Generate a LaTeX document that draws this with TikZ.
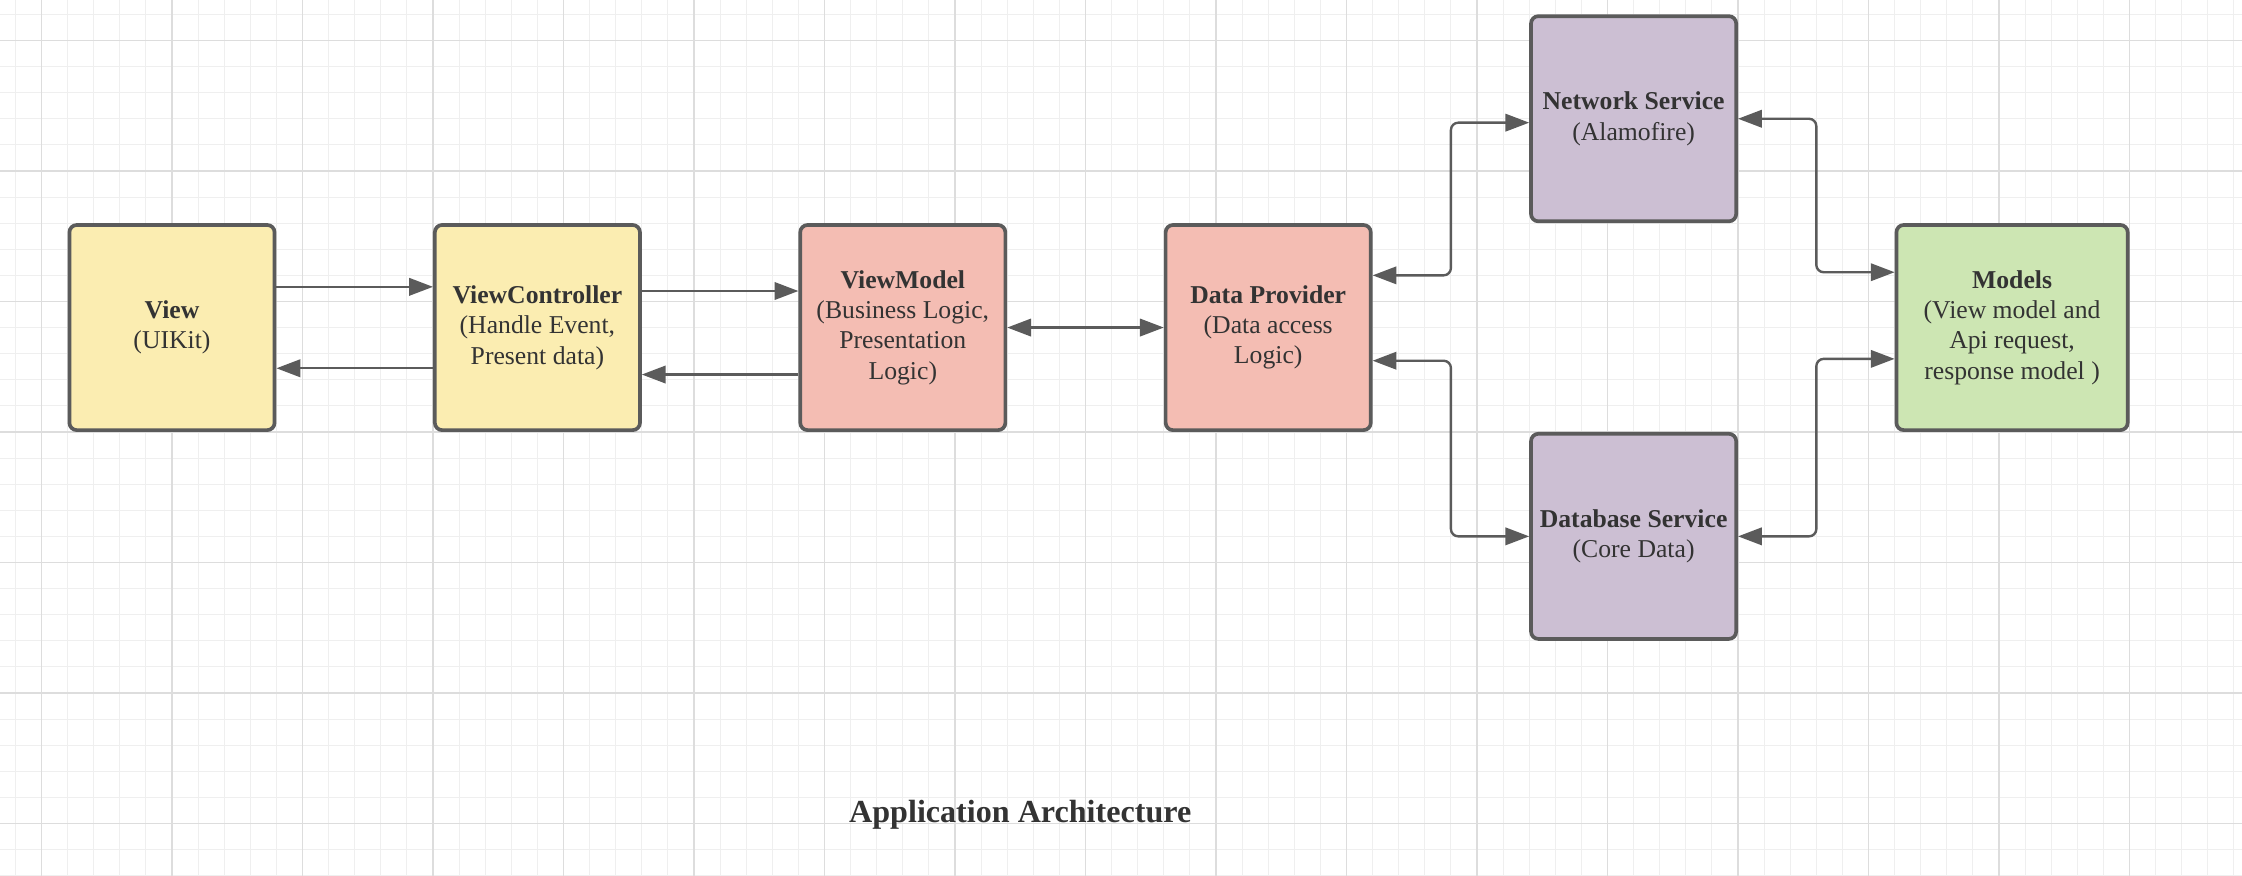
\documentclass[tikz,border=0pt]{standalone}
\usepackage{fontspec}
\setmainfont{Liberation Serif}
\usetikzlibrary{arrows.meta}
\definecolor{gridminor}{HTML}{EFEFEF}
\definecolor{gridmajor}{HTML}{DDDDDD}
\definecolor{boxline}{HTML}{5B5B5B}
\definecolor{txt}{HTML}{333333}
\definecolor{uiyellow}{HTML}{FBEDB1}
\definecolor{logicpink}{HTML}{F4BDB3}
\definecolor{servicepurple}{HTML}{CCBFD3}
\definecolor{modelgreen}{HTML}{CDE6B3}

\begin{document}
\begin{tikzpicture}[x=0.5cm, y=0.5cm, font=\fontsize{14}{16.5}\selectfont, every node/.style={align=center, text=txt}]
\tikzset{
  block/.style={draw=boxline, line width=2pt, rounded corners=4pt, minimum width=3.93cm, minimum height=3.93cm, inner sep=2pt},
  link/.style={draw=boxline, line width=1.3pt, rounded corners=4pt, >={Triangle[length=13pt,width=9.5pt]}}
}
\useasboundingbox (-1.59,-32.01) rectangle (84.31,1.55);
\draw[gridminor, line width=0.55pt, step=1] (-1.59,-32.01) grid (84.31,1.55);
\draw[gridmajor, line width=0.8pt, step=5] (-1.59,-32.01) grid (84.31,1.55);

\node[block, fill=uiyellow] (view) at (5,-11) {\textbf{View}\\(UIKit)};
\node[block, fill=uiyellow] (vc) at (19,-11) {\textbf{ViewController}\\(Handle Event,\\Present data)};
\node[block, fill=logicpink] (vm) at (33,-11) {\textbf{ViewModel}\\(Business Logic,\\Presentation\\Logic)};
\node[block, fill=logicpink] (provider) at (47,-11) {\textbf{Data Provider}\\(Data access\\Logic)};
\node[block, fill=servicepurple] (network) at (61,-3) {\textbf{Network Service}\\(Alamofire)};
\node[block, fill=servicepurple] (database) at (61,-19) {\textbf{Database Service}\\(Core Data)};
\node[block, fill=modelgreen, minimum width=4.43cm] (models) at (75.5,-11) {\textbf{Models}\\(View model and\\Api request,\\response model )};
\node[font=\bfseries\fontsize{17.5}{20}\selectfont] (title) at (37.5,-29.65) {Application Architecture};

\draw[link, ->] ([yshift=0.78cm]view.east) -- ([yshift=0.78cm]vc.west);
\draw[link, ->] ([yshift=-0.78cm]vc.west) -- ([yshift=-0.78cm]view.east);
\draw[link, ->] ([yshift=0.7cm]vc.east) -- ([yshift=0.7cm]vm.west);
\draw[link, ->] ([yshift=-0.9cm]vm.west) -- ([yshift=-0.9cm]vc.east);
\draw[link, <->] (vm) -- (provider);
\draw[link, <->] ([yshift=1cm]provider.east) -- ++(3,0) |- ([yshift=-0.075cm]network.west);
\draw[link, <->] ([yshift=-0.635cm]provider.east) -- ++(3,0) |- (database.west);
\draw[link, <->] (network.east) -- ++(3,0) |- ([yshift=1.06cm]models.west);
\draw[link, <->] (database.east) -- ++(3,0) |- ([yshift=-0.6cm]models.west);
\end{tikzpicture}
\end{document}
